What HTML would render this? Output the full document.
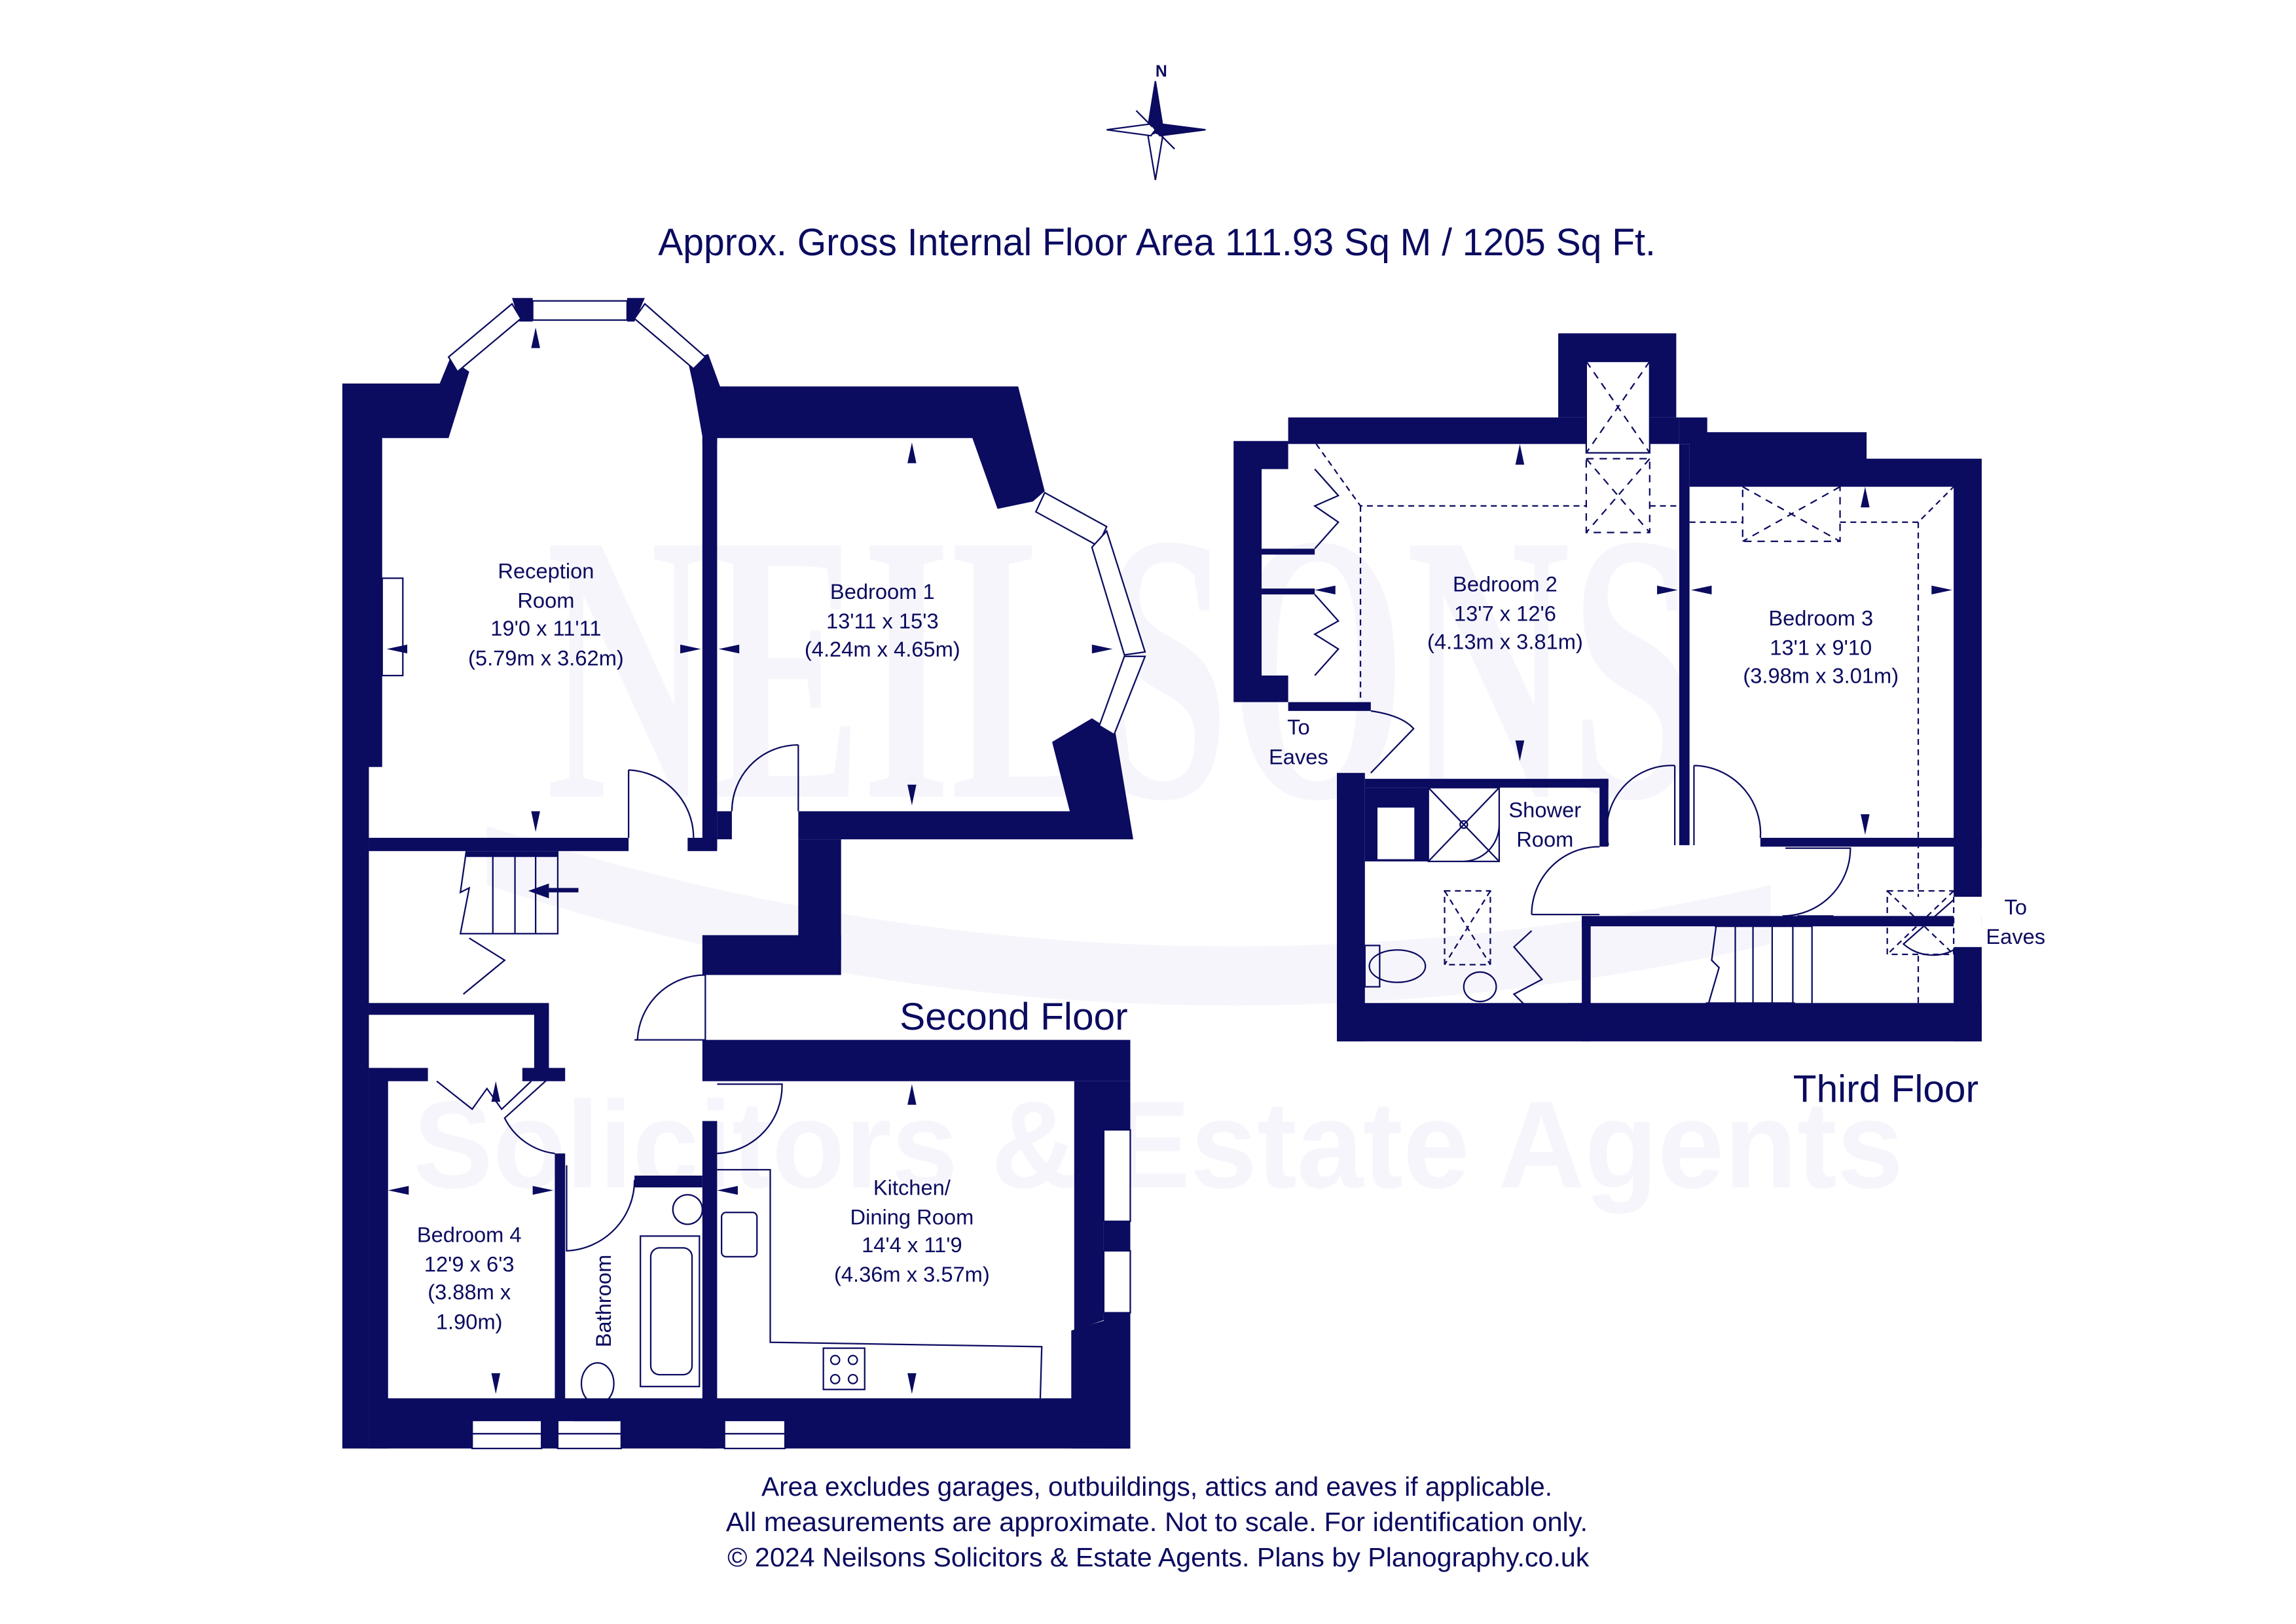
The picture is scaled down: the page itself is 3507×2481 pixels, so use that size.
<!DOCTYPE html>
<html><head><meta charset="utf-8"><style>
html,body{margin:0;padding:0;background:#fff;}
svg{display:block;}
text{font-family:"Liberation Sans","DejaVu Sans",sans-serif;fill:#0b0b60;}
</style></head><body>
<svg width="3507" height="2481" viewBox="0 0 1556 1101" preserveAspectRatio="none" xmlns="http://www.w3.org/2000/svg">
<rect width="1556" height="1101" fill="#fff"/>
<!-- watermark -->
<g font-weight="bold">
<text x="370" y="540" font-size="260" style="fill:#f5f5fb;font-family:'Liberation Serif',serif" textLength="780" lengthAdjust="spacingAndGlyphs">NEILSONS</text>
<path d="M330 560 Q760 700 1200 600 L1200 640 Q760 740 330 600Z" fill="#f5f5fb"/>
<text x="280" y="805" font-size="84" style="fill:#f5f5fb" textLength="1010" lengthAdjust="spacingAndGlyphs">Solicitors &amp; Estate Agents</text>
</g>
<!-- compass -->
<g fill="#0b0b60" stroke="#0b0b60" stroke-width="1">
<polygon points="783,55 788,86 783,90 778,86"/>
<polygon points="783,122 788,92 783,90 778,92" fill="#fff"/>
<polygon points="750,88 780,84 783,88 780,92" fill="#fff"/>
<polygon points="817,88 786,84 783,88 786,92"/>
<polygon points="770,75 781,86 776,81" />
<polygon points="796,101 785,90 790,95"/>
<text x="787" y="52" font-size="11" font-weight="bold" stroke="none" text-anchor="middle">N</text>
</g>
<text x="446" y="173" font-size="26" textLength="676" lengthAdjust="spacingAndGlyphs">Approx. Gross Internal Floor Area 111.93 Sq M / 1205 Sq Ft.</text>

<g fill="#0b0b60" stroke="none">
<polygon points="232,260 298,260 305,243 318,252 304,297 259,297 259,520 250,520 250,982 232,982"/>
<polygon points="347,202 361,202 361,218 352,218"/>
<polygon points="425,202 437,202 430,218 425,218"/>
<polygon points="466,244 480,240 488,262 690,262 708,333 700,340 676,345 659,297 486,297 486,300 476,300 476,296 470,262"/>
<polygon points="740,487 756,497 768,569 541,569 541,550 725,550 713,503"/>
<rect x="476" y="297" width="10" height="278"/>
<rect x="486" y="550" width="10" height="19"/>
<rect x="250" y="568" width="176" height="9"/>
<rect x="466" y="568" width="20" height="9"/>
<rect x="541" y="569" width="29" height="82"/>
<rect x="476" y="634" width="94" height="27"/>
<rect x="476" y="705" width="290" height="28"/>
<rect x="728" y="733" width="38" height="62"/>
<polygon points="728,795 748,790 748,895 728,902"/>
<rect x="748" y="828" width="18" height="20"/>
<rect x="748" y="890" width="18" height="92"/>
<polygon points="726,902 766,890 766,982 726,982"/>
<rect x="476" y="760" width="10" height="222"/>
<rect x="250" y="680" width="122" height="8"/>
<rect x="362" y="686" width="10" height="42"/>
<rect x="250" y="724" width="13" height="258"/>
<rect x="250" y="724" width="40" height="9"/>
<rect x="354" y="724" width="29" height="9"/>
<rect x="376" y="782" width="7" height="200"/>
<rect x="430" y="797" width="46" height="8"/>
<rect x="250" y="948" width="516" height="34"/>
<rect x="316" y="577" width="62" height="4" />
</g>
<g fill="#fff" stroke="#0b0b60" stroke-width="1">
<polygon points="304,242 347,206 353,216 310,252"/>
<rect x="361" y="204" width="64" height="13"/>
<polygon points="437,206 478,242 470,250 430,216"/>
<polygon points="708,334 750,357 744,370 702,347"/>
<polygon points="750,360 776,442 762,444 740,371"/>
<polygon points="776,445 755,498 745,492 762,445"/>
<rect x="748" y="766" width="18" height="62"/>
<rect x="748" y="848" width="18" height="42"/>
<rect x="320" y="963" width="47" height="19"/>
<rect x="378" y="963" width="43" height="19"/>
<rect x="491" y="963" width="41" height="19"/>
</g>
<g fill="none" stroke="#0b0b60" stroke-width="1">
<line x1="320" y1="972" x2="367" y2="972"/><line x1="378" y1="972" x2="421" y2="972"/><line x1="491" y1="972" x2="532" y2="972"/>
<rect x="259" y="392" width="14" height="66"/>
<path d="M426 522 L426 568 M426 522 A46 46 0 0 1 470 568"/>
<path d="M541 505 L541 550 M541 505 A45 45 0 0 0 496 550"/>
<path d="M478 660 L478 705 L430 705 M478 661 A46 46 0 0 0 432 705"/>
<path d="M486 735 L530 735 A46 46 0 0 1 486 782"/>
<path d="M384 790 L384 848 A48 48 0 0 0 430 800"/>
<path d="M373 730 L342 758 A44 44 0 0 0 376 782"/>
<path d="M316 577 L312 605 L318 602 L312 633 L378 633 L378 577"/>
<line x1="334" y1="577" x2="334" y2="633"/><line x1="349" y1="577" x2="349" y2="633"/><line x1="363" y1="577" x2="363" y2="633"/>
<path d="M318 636 L342 651 L314 674"/>
<path d="M296 733 L320 752 L330 738 L340 752 L360 733"/>
<rect x="434" y="838" width="40" height="102"/><rect x="441" y="846" width="28" height="86" rx="6"/>
<circle cx="466" cy="820" r="10"/>
<ellipse cx="405" cy="938" rx="11" ry="14"/><rect x="389" y="953" width="30" height="10"/>
<path d="M486 793 L522 793 L522 910 L706 913 L705 948"/>
<rect x="489" y="822" width="24" height="30" rx="3"/>
<rect x="558" y="914" width="28" height="28"/>
<circle cx="566" cy="922" r="3"/><circle cx="578" cy="922" r="3"/><circle cx="566" cy="935" r="3"/><circle cx="578" cy="935" r="3"/>
</g>
<g fill="#0b0b60">
<polygon points="363,222 360,236 366,236"/><polygon points="363,564 360,550 366,550"/>
<polygon points="262,440 276,437 276,443"/><polygon points="475,440 461,437 461,443"/>
<polygon points="487,440 501,437 501,443"/><polygon points="754,440 740,437 740,443"/>
<polygon points="618,300 615,314 621,314"/><polygon points="618,546 615,532 621,532"/>
<polygon points="618,735 615,749 621,749"/><polygon points="618,945 615,931 621,931"/>
<polygon points="486,807 500,804 500,810"/><polygon points="746,807 732,804 732,810"/>
<polygon points="263,807 277,804 277,810"/><polygon points="375,807 361,804 361,810"/>
<polygon points="336,733 333,747 339,747"/><polygon points="336,945 333,931 339,931"/>
<polygon points="358,604 372,599 372,609"/><rect x="372" y="602" width="20" height="3"/>
</g>

<g fill="#0b0b60">
<polygon points="1056,226 1136,226 1136,283 1157,283 1157,293 1265,293 1265,311 1343,311 1343,608 1324,608 1324,330 1145,330 1145,301 1138,301 1138,283 1056,283"/>
<rect x="873" y="283" width="265" height="18"/>
<polygon points="836,299 873,299 873,318 855,318 855,458 873,458 873,476 929,476 929,482 873,482 873,476 836,476"/>
<rect x="855" y="372" width="36" height="4"/>
<rect x="855" y="399" width="36" height="4"/>
<rect x="1138" y="301" width="7" height="272"/>
<rect x="1193" y="568" width="150" height="6"/>
<rect x="1324" y="642" width="19" height="64"/>
<rect x="906" y="524" width="19" height="182"/>
<rect x="906" y="680" width="437" height="26"/>
<rect x="925" y="528" width="165" height="6"/>
<rect x="1084" y="528" width="6" height="46"/>
<rect x="925" y="534" width="43" height="50"/>
<rect x="1072" y="621" width="271" height="7"/>
<rect x="1072" y="621" width="6" height="85"/>
<rect x="1063" y="680" width="9" height="12"/>
</g>
<g fill="#fff" stroke="#0b0b60" stroke-width="1">
<rect x="933" y="547" width="26" height="36"/>
<rect x="1075" y="245" width="43" height="62"/>
<rect x="968" y="534" width="48" height="50"/>
<rect x="1324" y="608" width="19" height="34" stroke="none"/>
</g>
<g fill="none" stroke="#0b0b60" stroke-width="1">
<path d="M1075 245 L1118 307 M1118 245 L1075 307" stroke-dasharray="5,4"/>
<rect x="1075" y="311" width="43" height="50" stroke-dasharray="5,4"/>
<path d="M1075 311 L1118 361 M1118 311 L1075 361" stroke-dasharray="5,4"/>
<rect x="1181" y="313" width="66" height="54" stroke-dasharray="5,4"/>
<path d="M1181 330 L1247 367 M1247 330 L1181 367" stroke-dasharray="5,4"/>
<path d="M892 301 L922 343 L1075 343 M1118 343 L1138 343 M922 343 L922 476 M1145 354 L1181 354 M1247 354 L1300 354 L1324 330 M1300 354 L1300 608 M1300 648 L1300 680" stroke-dasharray="4,3"/>
<rect x="979" y="604" width="31" height="50" stroke-dasharray="4,3"/>
<path d="M979 604 L1010 654 M1010 604 L979 654" stroke-dasharray="4,3"/>
<rect x="1279" y="604" width="45" height="43" stroke-dasharray="4,3"/>
<path d="M1279 604 L1324 647 M1324 604 L1279 647" stroke-dasharray="4,3"/>
<path d="M968 584 L1016 534 M968 534 L1016 584"/><circle cx="992" cy="559" r="2.5"/>
<path d="M1016 560 A25 25 0 0 1 992 584"/>
<path d="M891 318 L907 336 L891 343 L907 354 L891 372"/>
<path d="M891 403 L907 421 L891 430 L907 440 L891 458"/>
<path d="M929 482 Q950 485 958 494 L929 524"/>
<path d="M1135 519 L1135 573 M1135 519 A44 44 0 0 0 1090 573"/>
<path d="M1148 519 L1148 573 M1148 519 A46 46 0 0 1 1193 568"/>
<path d="M1038 620 L1084 620 M1084 574 A46 46 0 0 0 1038 620"/>
<path d="M1210 575 L1254 575 A46 46 0 0 1 1208 621"/>
<path d="M1324 610 L1290 640 A30 30 0 0 0 1324 644"/>
<path d="M1218 621 L1242 621 L1242 627 L1218 627"/>
<path d="M1038 631 L1026 642 L1045 664 L1026 674 L1044 692"/>
<rect x="925" y="641" width="10" height="28"/><ellipse cx="947" cy="655" rx="19" ry="11"/>
<ellipse cx="1003" cy="669" rx="11" ry="10"/>
<path d="M1163 628 L1160 651 L1165 656 L1158 680 M1162 628 L1228 628 L1228 680 M1156 680 L1216 680 L1216 687 L1156 687"/>
<line x1="1176" y1="628" x2="1176" y2="680"/><line x1="1188" y1="628" x2="1188" y2="680"/><line x1="1201" y1="628" x2="1201" y2="680"/><line x1="1215" y1="628" x2="1215" y2="680"/>
</g>
<g fill="#0b0b60">
<polygon points="1030,301 1027,315 1033,315"/><polygon points="1030,516 1027,502 1033,502"/>
<polygon points="891,400 905,397 905,403"/><polygon points="1137,400 1123,397 1123,403"/>
<polygon points="1146,400 1160,397 1160,403"/><polygon points="1323,400 1309,397 1309,403"/>
<polygon points="1264,330 1261,344 1267,344"/><polygon points="1264,566 1261,552 1267,552"/>
</g>

<g font-size="14.5" text-anchor="middle">
<text x="370" y="392">Reception</text><text x="370" y="412">Room</text><text x="370" y="431">19'0 x 11'11</text><text x="370" y="451">(5.79m x 3.62m)</text>
<text x="598" y="406">Bedroom 1</text><text x="598" y="426">13'11 x 15'3</text><text x="598" y="445">(4.24m x 4.65m)</text>
<text x="318" y="842">Bedroom 4</text><text x="318" y="862">12'9 x 6'3</text><text x="318" y="881">(3.88m x</text><text x="318" y="901">1.90m)</text>
<text x="618" y="810">Kitchen/</text><text x="618" y="830">Dining Room</text><text x="618" y="849">14'4 x 11'9</text><text x="618" y="869">(4.36m x 3.57m)</text>
<text x="1020" y="401">Bedroom 2</text><text x="1020" y="421">13'7 x 12'6</text><text x="1020" y="440">(4.13m x 3.81m)</text>
<text x="1234" y="424">Bedroom 3</text><text x="1234" y="444">13'1 x 9'10</text><text x="1234" y="463">(3.98m x 3.01m)</text>
<text x="1047" y="554">Shower</text><text x="1047" y="574">Room</text>
<text x="880" y="498">To</text><text x="880" y="518">Eaves</text>
<text x="1366" y="620">To</text><text x="1366" y="640">Eaves</text>
<text x="414" y="882" transform="rotate(-90 414 882)">Bathroom</text>
</g>
<text x="687" y="698" font-size="26" text-anchor="middle">Second Floor</text>
<text x="1278" y="747" font-size="26" text-anchor="middle">Third Floor</text>
<g font-size="18">
<text x="516" y="1014" textLength="536" lengthAdjust="spacingAndGlyphs">Area excludes garages, outbuildings, attics and eaves if applicable.</text>
<text x="492" y="1038" textLength="584" lengthAdjust="spacingAndGlyphs">All measurements are approximate. Not to scale. For identification only.</text>
<text x="493" y="1062" textLength="584" lengthAdjust="spacingAndGlyphs">© 2024 Neilsons Solicitors &amp; Estate Agents. Plans by Planography.co.uk</text>
</g>
</svg>
</body></html>
